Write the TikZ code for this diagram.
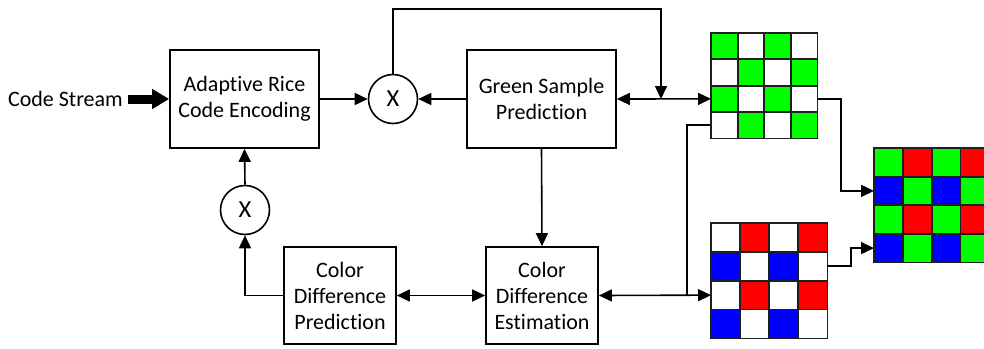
\documentclass[tikz,border=0pt]{standalone}
\usepackage{fontspec}
\setmainfont{Carlito}[Ligatures=NoCommon]
\usetikzlibrary{arrows.meta,calc,shadows}

\definecolor{bgreen}{RGB}{0,255,0}
\definecolor{bred}{RGB}{255,0,0}
\definecolor{bblue}{RGB}{0,0,255}
\definecolor{gridline}{RGB}{30,30,30}

% cell colours by (row mod 2, column mod 2)
\colorlet{ga00}{bgreen}\colorlet{ga01}{white}\colorlet{ga10}{white}\colorlet{ga11}{bgreen}
\colorlet{rb00}{white}\colorlet{rb01}{bred}\colorlet{rb10}{bblue}\colorlet{rb11}{white}
\colorlet{fc00}{bgreen}\colorlet{fc01}{bred}\colorlet{fc10}{bblue}\colorlet{fc11}{bgreen}

% 4x4 mosaic: #1 colour prefix, #2 node name
\newcommand\cellgrid[2]{%
  \foreach \r in {0,...,3}{%
    \foreach \c in {0,...,3}{%
      \pgfmathtruncatemacro\rp{mod(\r,2)}%
      \pgfmathtruncatemacro\cp{mod(\c,2)}%
      \filldraw[fill=#1\rp\cp, draw=gridline, line width=1.8pt]
        ($(#2.north west)!{\c/4}!(#2.north east)!{\r/4}!($(#2.south west)!{\c/4}!(#2.south east)$)$)
        rectangle
        ($(#2.north west)!{(\c+1)/4}!(#2.north east)!{(\r+1)/4}!($(#2.south west)!{(\c+1)/4}!(#2.south east)$)$);
    }%
  }%
}

\begin{document}
\begin{tikzpicture}[x=1pt,y=-1pt,
  every node/.style={font=\fontsize{22}{26}\selectfont},
  block/.style={draw, line width=1.7pt, fill=white, align=center, inner sep=0pt,
    drop shadow={shadow xshift=1.2pt, shadow yshift=-1.2pt, opacity=0.18}},
  mult/.style={draw, circle, line width=1.6pt, minimum size=49pt, inner sep=0pt, fill=white,
    font=\fontsize{24.5}{26}\selectfont},
  mosaic/.style={inner sep=0pt, anchor=north west},
  conn/.style={line width=1.6pt, -{Triangle[length=13pt,width=12pt]}},
  biconn/.style={line width=1.6pt, {Triangle[length=13pt,width=12pt]}-{Triangle[length=13pt,width=12pt]}},
  wire/.style={line width=1.6pt},
]
\clip (0,0) rectangle (984,348);

% processing blocks
\node[block, minimum width=149pt, minimum height=98pt] (arc) at (244.5,99) {Adaptive Rice\\Code Encoding};
\node[block, minimum width=149pt, minimum height=98pt] (gsp) at (541.5,99) {Green Sample\\Prediction};
\node[block, minimum width=112pt, minimum height=97pt] (cdp) at (340,295.5) {Color\\Difference\\Prediction};
\node[block, minimum width=112pt, minimum height=97pt] (cde) at (542,295.5) {Color\\Difference\\Estimation};

% multipliers
\node[mult] (m1) at (393,99) {X};
\node[mult] (m2) at (245,210) {X};

% input label
\node[anchor=east, inner sep=0pt] (cs) at (123,99) {Code Stream};

% colour mosaics
\node[mosaic, minimum width=106pt, minimum height=105pt] (gg) at (711,33) {};
\node[mosaic, minimum width=116pt, minimum height=115pt] (rb) at (711,223) {};
\node[mosaic, minimum width=115pt, minimum height=114pt] (fg) at (874,148) {};
\cellgrid{ga}{gg}
\cellgrid{rb}{rb}
\cellgrid{fc}{fg}

% connection points on the mosaics (row centres)
\coordinate (gg3w) at ($(gg.north west)!0.625!(gg.south west)$);
\coordinate (gg4w) at ($(gg.north west)!0.875!(gg.south west)$);
\coordinate (gg3e) at ($(gg.north east)!0.625!(gg.south east)$);
\coordinate (rb3w) at ($(rb.north west)!0.625!(rb.south west)$);
\coordinate (rb2e) at ($(rb.north east)!0.375!(rb.south east)$);
\coordinate (fg2w) at ($(fg.north west)!0.375!(fg.south west)$);
\coordinate (fg4w) at ($(fg.north west)!0.875!(fg.south west)$);

% routing helpers
\coordinate (loop) at (393,9);
\coordinate (tap) at (661,99);
\coordinate (drop) at (687,295.5);
\coordinate (bend1) at (841,0);
\coordinate (bend2) at (851,0);

% code stream input
\draw[line width=9pt, -{Triangle[length=17pt,width=19pt]}] ([xshift=5pt]cs.east) -- (arc.west);

% top row
\draw[conn] (arc.east) -- (m1.west);
\draw[conn] (gsp.west) -- (m1.east);
\draw[conn] (m1.north) -- (loop) -| (tap);
\draw[biconn] (gsp.east) -- (gg3w);

% left column
\draw[conn] (m2.north) -- (arc.south);
\draw[conn] (cdp.west) -| (m2.south);

% middle and bottom row
\draw[conn] (gsp.south) -- (cde.north);
\draw[biconn] (cdp.east) -- (cde.west);
\draw[biconn] (cde.east) -- (rb3w);
\draw[wire] (gg4w) -| (drop);

% into the full colour mosaic
\draw[conn] (gg3e) -| (bend1 |- fg2w) -- (fg2w);
\draw[conn] (rb2e) -| (bend2 |- fg4w) -- (fg4w);
\end{tikzpicture}
\end{document}
